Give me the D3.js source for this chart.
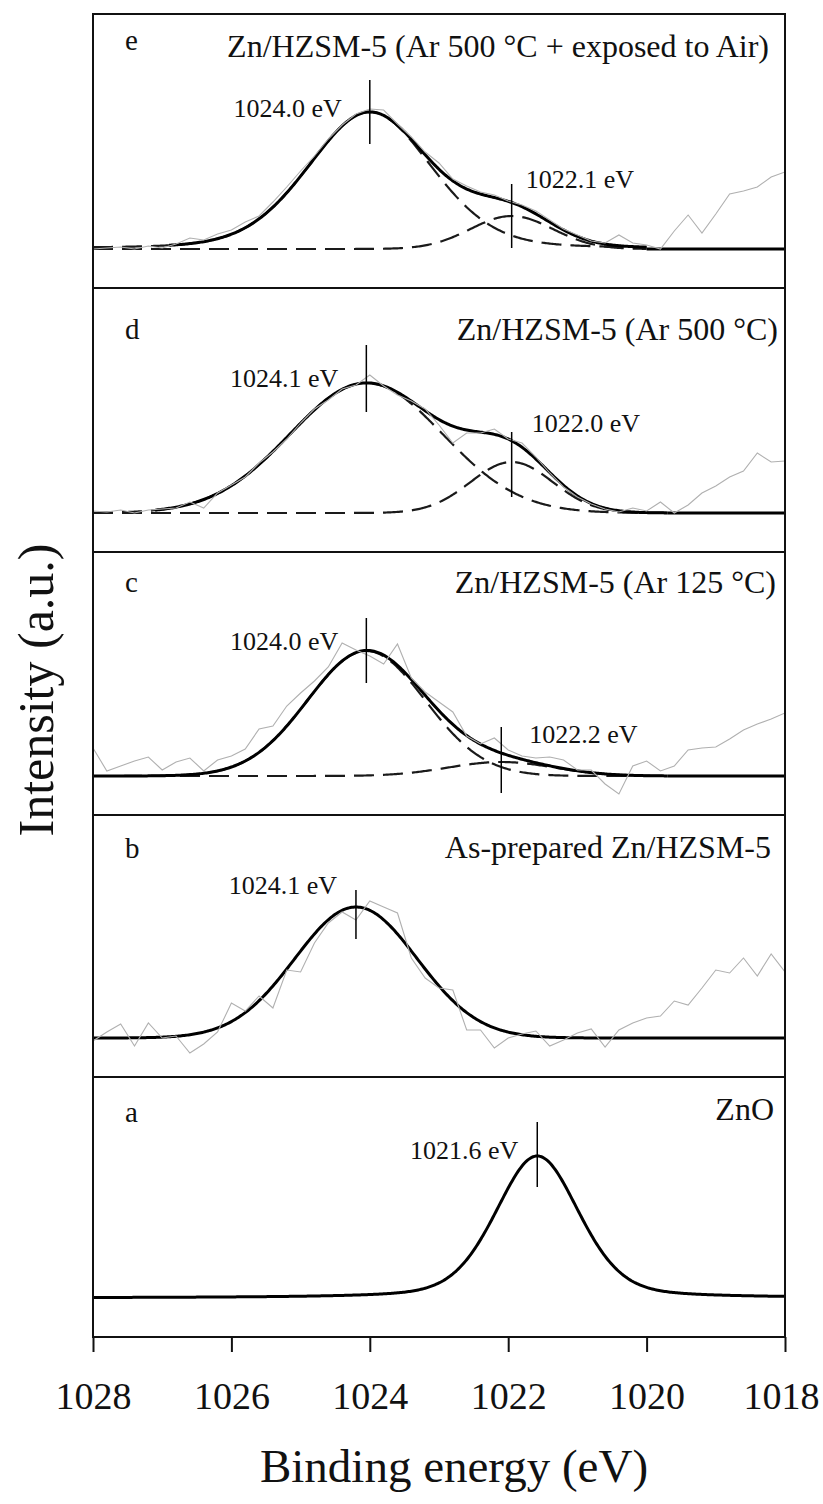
<!DOCTYPE html>
<html>
<head>
<meta charset="utf-8">
<script src="https://cdn.jsdelivr.net/npm/d3@7"></script>
<style>
  body { margin: 0; background: #fff; }
  svg { display: block; }
  text { font-family: "Liberation Serif", "Times New Roman", serif; fill: #111; }
</style>
</head>
<body>
<svg id="chart" width="823" height="1504"></svg>
<script>
// XPS Zn 2p3/2 spectra, panels drawn top (e) to bottom (a)
const panelLetters = ['e', 'd', 'c', 'b', 'a']
const panelTitles = [
  'Zn/HZSM-5 (Ar 500 °C + exposed to Air)',
  'Zn/HZSM-5 (Ar 500 °C)',
  'Zn/HZSM-5 (Ar 125 °C)',
  'As-prepared Zn/HZSM-5',
  'ZnO'
]
const xTicks = [1028, 1026, 1024, 1022, 1020, 1018]

// fitted components (center eV, height a.u., fwhm eV, lorentz fraction)
const compCenter = [[1024.0, 1021.95], [1024.05, 1021.95], [1024.05, 1022.1], [1024.2], [1021.58]]
const compHeight = [[137, 33], [130, 51], [125, 14], [131], [142]]
const compFwhm = [[2.1, 1.4], [2.6, 1.4], [2.0, 1.8], [2.08], [1.43]]
const compLorentz = [[0.2, 0], [0, 0], [0, 0], [0], [0.3]]
const peakLabels = [['1024.0 eV', '1022.1 eV'], ['1024.1 eV', '1022.0 eV'], ['1024.0 eV', '1022.2 eV'], ['1024.1 eV'], ['1021.6 eV']]
const fitRange = [[1026.9, 1020.0], [1027.1, 1019.7], [1028, 1019.7], [1028, 1018], [1028, 1018]]

// raw spectra (grey)
const energyGrid = [1028.0, 1027.8, 1027.6, 1027.4, 1027.2, 1027.0, 1026.8, 1026.6, 1026.4, 1026.2,
  1026.0, 1025.8, 1025.6, 1025.4, 1025.2, 1025.0, 1024.8, 1024.6, 1024.4, 1024.2,
  1024.0, 1023.8, 1023.6, 1023.4, 1023.2, 1023.0, 1022.8, 1022.6, 1022.4, 1022.2,
  1022.0, 1021.8, 1021.6, 1021.4, 1021.2, 1021.0, 1020.8, 1020.6, 1020.4, 1020.2,
  1020.0, 1019.8, 1019.6, 1019.4, 1019.2, 1019.0, 1018.8, 1018.6, 1018.4, 1018.2, 1018.0]
const rawE = [0, 1, 2, 0, 3, 1, 5, 11, 9, 15,
  19, 27, 33, 47, 62, 78, 93, 110, 124, 135,
  140, 139, 125, 112, 97, 86, 70, 63, 57, 54,
  48, 44, 38, 29, 20, 14, 8, 6, 14, 6,
  4, 0, 18, 34, 16, 35, 55, 58, 62, 72, 77]
const rawD = [2, 1, 3, 0, 3, 4, 5, 11, 5, 20,
  28, 36, 50, 61, 74, 90, 104, 113, 124, 128,
  138, 127, 118, 112, 104, 88, 70, 80, 80, 84,
  74, 70, 56, 40, 26, 16, 9, 4, 1, 5,
  2, 11, 0, 8, 20, 27, 36, 42, 60, 51, 52]
const rawC = [28, 5, 10, 15, 19, 6, 14, 18, 5, 16,
  20, 27, 47, 50, 70, 83, 95, 109, 133, 126,
  120, 112, 132, 98, 84, 74, 64, 40, 32, 38,
  26, 20, 18, 19, 16, 6, 6, -8, -18, 10,
  15, 5, 10, 26, 28, 29, 37, 46, 52, 57, 63]
const rawB = [-3, 6, 14, -8, 15, 0, 2, -15, -6, 6,
  35, 27, 42, 30, 68, 66, 95, 115, 126, 118,
  137, 131, 125, 80, 60, 50, 48, 8, 8, -10,
  0, 4, 7, -8, -2, 5, 9, -9, 8, 15,
  20, 22, 37, 33, 50, 68, 65, 80, 62, 84, 66]
const rawSeries = [rawE, rawD, rawC, rawB, null]

// layout
const left = 93, right = 785
const panelTops = [14, 288, 552, 815, 1077]
const plotBottom = 1337
const baseOffset = 39
const letterDy = [36, 51, 40, 43, 45]
const titleDy = [43, 52, 41, 43, 43]
const titleRight = [769, 778, 776, 771, 774]
const labelOffsets = [[[-28, 5], [14, -28]], [[-28, 4], [20, -30]], [[-28, -1], [28, -19]], [[-19, -13]], [[-19, 3]]]
const tickSpans = [[[-32, 32], [-32, 32]], [[-38, 29], [-30, 35]], [[-33, 32], [-35, 31]], [[-17, 32]], [[-34, 31]]]

let svg = d3.select('#chart')
let x = d3.scaleLinear().domain([1028, 1018]).range([left, right])

function profile(E, c, h, w, eta) {
  let t = (E - c) / w
  return h * ((1 - eta) * Math.exp(-4 * Math.LN2 * t * t) + eta / (1 + 4 * t * t))
}

panelLetters.forEach((letter, i) => {
  let top = panelTops[i]
  let bottom = i < 4 ? panelTops[i + 1] : plotBottom
  let y = d3.scaleLinear().domain([-baseOffset, bottom - top - baseOffset]).range([bottom, top])
  let g = svg.append('g')

  g.append('clipPath').attr('id', 'clip-' + letter)
    .append('rect').attr('x', left).attr('y', top).attr('width', right - left).attr('height', bottom - top)
  let plot = g.append('g').attr('clip-path', `url(#clip-${letter})`)

  let comps = compCenter[i].map((c, j) => ({ c, h: compHeight[i][j], w: compFwhm[i][j], eta: compLorentz[i][j] }))
  let [fitStart, fitEnd] = fitRange[i]
  let line = d3.line().x(d => x(d[0])).y(d => y(d[1]))

  // dashed components
  if (comps.length > 1) {
    comps.forEach(cp => {
      let pts = d3.range(1028, fitEnd - 0.001, -0.02).map(E => [E, profile(E, cp.c, cp.h, cp.w, cp.eta)])
      plot.append('path').attr('d', line(pts))
        .attr('fill', 'none').attr('stroke', '#1a1a1a').attr('stroke-width', 2.2)
        .attr('stroke-dasharray', '20,9')
    })
  }

  // envelope + flat baseline after fit window
  let env = d3.range(fitStart, fitEnd - 0.001, -0.02)
    .map(E => [E, d3.sum(comps, cp => profile(E, cp.c, cp.h, cp.w, cp.eta))])
  plot.append('path').attr('d', line(env))
    .attr('fill', 'none').attr('stroke', '#000').attr('stroke-width', 3)
  if (fitEnd > 1018) {
    plot.append('path').attr('d', line([[fitEnd, 0], [1018, 0]]))
      .attr('fill', 'none').attr('stroke', '#000').attr('stroke-width', 3)
  }

  // raw data
  if (rawSeries[i]) {
    let pts = energyGrid.map((E, k) => [E, rawSeries[i][k]])
    plot.append('path').attr('d', line(pts))
      .attr('fill', 'none').attr('stroke', '#b0b0b0').attr('stroke-width', 1.1)
  }

  // peak markers and labels
  comps.forEach((cp, j) => {
    let px = x(cp.c), py = y(cp.h)
    let span = tickSpans[i][j]
    g.append('line').attr('x1', px).attr('x2', px)
      .attr('y1', py + span[0]).attr('y2', py + span[1])
      .attr('stroke', '#000').attr('stroke-width', 1.5)
    let off = labelOffsets[i][j]
    g.append('text').attr('x', px + off[0]).attr('y', py + off[1])
      .attr('text-anchor', off[0] < 0 ? 'end' : 'start')
      .style('font-size', '26px')
      .text(peakLabels[i][j])
  })

  g.append('rect').attr('x', left).attr('y', top).attr('width', right - left).attr('height', bottom - top)
    .attr('fill', 'none').attr('stroke', '#111').attr('stroke-width', 2)

  g.append('text').attr('x', 125).attr('y', top + letterDy[i])
    .style('font-size', '29px').text(letter)
  g.append('text').attr('x', titleRight[i]).attr('y', top + titleDy[i])
    .attr('text-anchor', 'end').style('font-size', '32px').text(panelTitles[i])
})

// bottom axis
let axis = svg.append('g').attr('transform', `translate(0,${plotBottom})`)
  .call(d3.axisBottom(x).tickValues(xTicks).tickSize(15).tickFormat(d3.format('d')))
axis.select('.domain').remove()
axis.selectAll('.tick line').attr('stroke', '#111').attr('stroke-width', 2)
axis.selectAll('.tick text')
  .attr('y', 72).attr('dy', null)
  .style('font-size', '38px')
  .style('font-family', '"Liberation Serif", "Times New Roman", serif')
  .attr('fill', '#111')
// keep the last label inside the page
axis.selectAll('.tick text').filter(d => d === 1018).attr('x', -4)

svg.append('text').attr('x', 454).attr('y', 1482).attr('text-anchor', 'middle')
  .style('font-size', '47px').text('Binding energy (eV)')

svg.append('text').attr('transform', 'translate(53,690) rotate(-90)').attr('text-anchor', 'middle')
  .style('font-size', '50px').text('Intensity (a.u.)')
</script>
</body>
</html>
